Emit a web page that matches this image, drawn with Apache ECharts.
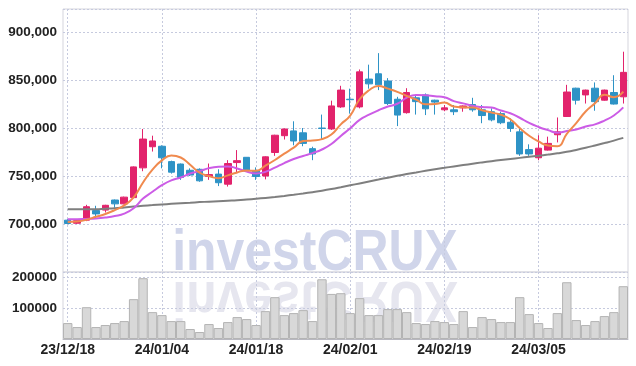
<!DOCTYPE html>
<html><head><meta charset="utf-8">
<script src="https://cdn.jsdelivr.net/npm/echarts@6/dist/echarts.min.js"></script>
<style>html,body{margin:0;padding:0;background:#fff}#c{width:636px;height:366px}</style>
</head><body><div id="c"></div>
<script>
const dates = ['23/12/18','23/12/19','23/12/20','23/12/21','23/12/22','23/12/26','23/12/27','23/12/28','24/01/02','24/01/03',
'24/01/04','24/01/05','24/01/08','24/01/09','24/01/10','24/01/11','24/01/12','24/01/15','24/01/16','24/01/17',
'24/01/18','24/01/19','24/01/22','24/01/23','24/01/24','24/01/25','24/01/26','24/01/29','24/01/30','24/01/31',
'24/02/01','24/02/02','24/02/05','24/02/06','24/02/07','24/02/08','24/02/13','24/02/14','24/02/15','24/02/16',
'24/02/19','24/02/20','24/02/21','24/02/22','24/02/23','24/02/26','24/02/27','24/02/28','24/02/29','24/03/04',
'24/03/05','24/03/06','24/03/07','24/03/08','24/03/11','24/03/12','24/03/13','24/03/14','24/03/15','24/03/18'];

const opens = [704000,700800,704000,714000,714500,725000,721000,727500,758500,780500,
781000,765000,762500,756000,757000,749500,752000,741500,764000,769500,
755500,750000,774500,792000,797000,795000,778500,800000,799000,822000,
830000,822000,851000,856500,849000,830000,816000,831500,834500,829000,
819000,819000,821000,824500,819000,817000,815000,806000,796000,777500,
769000,777000,793000,812000,841500,834500,841500,829000,837000,832500];
const closes = [700500,703500,718000,710500,719500,721000,728000,759500,788500,786500,
769000,754000,748500,751000,745000,751500,743000,763000,766000,755500,
749500,770000,792500,799000,786500,784000,773000,799500,823000,839500,
829500,858500,846000,845000,825500,813500,837000,827500,820000,827000,
821000,817000,823000,819000,813000,808500,805500,799500,773000,773000,
779000,784000,796000,837500,829000,839500,827500,839500,825000,858000];
const highs = [705000,704000,720000,719000,720000,725500,728500,760000,799000,792000,
782000,766000,763000,758000,758000,763000,757000,766500,777000,769500,
759000,770500,793000,799500,807000,800000,780500,814000,828500,844000,
841000,861000,866000,878000,852000,832500,841500,833500,836000,829500,
824000,824000,823500,831500,824000,820500,817000,810000,800000,783000,
792500,791000,811000,845000,842000,840000,847500,840000,855000,879500];
const lows = [700000,700000,703000,705500,712000,717000,720500,727000,755000,775500,
758000,752500,746000,750000,744000,746000,739500,739000,753000,755000,
746000,746500,771000,788000,782000,781000,766500,787500,798000,821000,
815000,820500,841000,839500,824000,802000,815000,814000,813500,814000,
817500,813500,817000,817000,805000,807000,804000,796000,771000,771000,
766500,776500,785000,811500,824500,825500,818000,828500,824500,825500];
const ma5 = [702000,702500,704500,707500,710400,714500,719400,727700,743300,756700,
766300,771500,769300,761800,753500,750000,747800,750700,753700,755800,
755400,760800,766700,773300,779500,786400,787000,788400,793200,803800,
812900,830000,839300,843800,841000,837700,833400,829700,824700,825000,
826500,822500,821600,821400,818600,816100,813800,809100,799900,791900,
786000,781700,781000,793900,805100,817200,825900,834600,832100,837900];
const ma10 = [705000,705000,705300,705800,706800,708300,710800,716500,726500,733600,
740400,745500,748500,752600,755100,758200,759700,760000,757800,754700,
752700,754300,758700,763500,767700,770900,773900,777600,783300,791700,
799700,808500,813900,818500,822400,825300,831700,834500,834200,833000,
832100,828000,825700,823100,821800,821300,818200,815400,810700,805300,
801100,797800,795100,796900,798500,801600,803800,807800,813000,821500];
const maLong = [715500,715500,715500,715500,716000,716500,717300,718200,719000,719700,
720400,721000,721600,722200,722800,723300,723800,724300,724800,725500,
726300,727200,728200,729300,730500,731800,733200,734700,736400,738300,
740300,742300,744300,746300,748300,750200,752000,753700,755400,757000,
758500,760000,761400,762800,764200,765500,766700,767800,768900,770000,
771100,772300,773600,775200,777200,779400,781800,784300,786900,789700];
const volumes = [51600,38700,103000,38700,45200,51600,58000,129000,197000,87000,
77400,58000,58000,32300,22600,48400,35500,54800,71000,64500,
45200,90300,135500,77400,83900,93500,58000,193500,146000,148400,
83900,132300,77400,77400,96800,96800,87000,51600,48400,58000,
54800,48400,90300,38700,71000,64500,54800,54800,135500,80600,
51600,35500,83900,183900,61300,45200,58000,74200,87000,171000];
const watermark = 'investCRUX';

const candles = dates.map((d, i) => [opens[i], closes[i], lows[i], highs[i]]);
const FONT = '"Liberation Sans Narrow", "Liberation Sans", Arial, sans-serif';
const gridLine = { show: true, lineStyle: { color: '#c6cade', type: [2, 2], width: 1 } };
const UP = '#e2236c', DOWN = '#2e93c6';

const chart = echarts.init(document.getElementById('c'), null, { renderer: 'canvas' });
chart.setOption({
  animation: false,
  graphic: [
    { type: 'text', z: -10, x: 315, y: 276, scaleX: 0.86, scaleY: 1,
      style: { text: watermark, x: 0, y: -22, font: 'bold 58px "Liberation Sans", Arial, sans-serif',
        fill: '#d0d5ea', align: 'center', textAlign: 'center', verticalAlign: 'middle', textVerticalAlign: 'middle' } },
    { type: 'text', z: -10, x: 315, y: 276, scaleX: 0.86, scaleY: -1,
      style: { text: watermark, x: 0, y: -22, font: 'bold 58px "Liberation Sans", Arial, sans-serif',
        fill: '#e6e6ef', align: 'center', textAlign: 'center', verticalAlign: 'middle', textVerticalAlign: 'middle' } }
  ],
  grid: [
    { left: 63, right: 8, top: 9, height: 263, show: true, borderColor: '#d5d5dd', borderWidth: 1 },
    { left: 63, right: 8, top: 272, height: 67, show: true, borderColor: '#d5d5dd', borderWidth: 1 }
  ],
  xAxis: [
    { type: 'category', data: dates, gridIndex: 0, boundaryGap: true,
      axisLine: { show: false }, axisTick: { show: false, interval: 9 },
      axisLabel: { show: false, interval: 9 },
      splitLine: Object.assign({ interval: 9, alignWithLabel: true }, gridLine) },
    { type: 'category', data: dates, gridIndex: 1, boundaryGap: true,
      axisLine: { show: true, lineStyle: { color: '#b8b8c0' } }, axisTick: { show: false, interval: 9 },
      axisLabel: { interval: 9, color: '#222', fontFamily: FONT, fontSize: 14, fontWeight: 'bold', margin: 4 },
      splitLine: Object.assign({ interval: 9, alignWithLabel: true }, gridLine) }
  ],
  yAxis: [
    { type: 'value', gridIndex: 0, min: 650000, max: 924000, interval: 50000,
      axisLine: { show: false }, axisTick: { show: false },
      axisLabel: { showMinLabel: false, showMaxLabel: false, color: '#222', fontFamily: FONT, fontSize: 13.5, fontWeight: 'bold', margin: 6 },
      splitLine: gridLine },
    { type: 'value', gridIndex: 1, min: 0, max: 217000, interval: 100000,
      axisLine: { show: false }, axisTick: { show: false },
      axisLabel: { showMinLabel: false, showMaxLabel: false, color: '#222', fontFamily: FONT, fontSize: 13.5, fontWeight: 'bold', margin: 6,
        formatter: v => String(v) },
      splitLine: gridLine }
  ],
  series: [
    { type: 'candlestick', xAxisIndex: 0, yAxisIndex: 0, data: candles, barWidth: 7,
      itemStyle: { color: UP, color0: DOWN, borderColor: UP, borderColor0: DOWN, borderWidth: 1 } },
    { type: 'line', xAxisIndex: 0, yAxisIndex: 0, data: maLong, showSymbol: false, smooth: true, z: 3,
      lineStyle: { color: '#7f7f7f', width: 2 } },
    { type: 'line', xAxisIndex: 0, yAxisIndex: 0, data: ma10, showSymbol: false, smooth: true, z: 3,
      lineStyle: { color: '#cc5ce6', width: 2 } },
    { type: 'line', xAxisIndex: 0, yAxisIndex: 0, data: ma5, showSymbol: false, smooth: true, z: 4,
      lineStyle: { color: '#f08a4e', width: 2 } },
    { type: 'bar', xAxisIndex: 1, yAxisIndex: 1, data: volumes, barCategoryGap: '0%',
      itemStyle: { color: '#d8d8d8', borderColor: '#b4b4b4', borderWidth: 1 } }
  ]
});
</script></body></html>
